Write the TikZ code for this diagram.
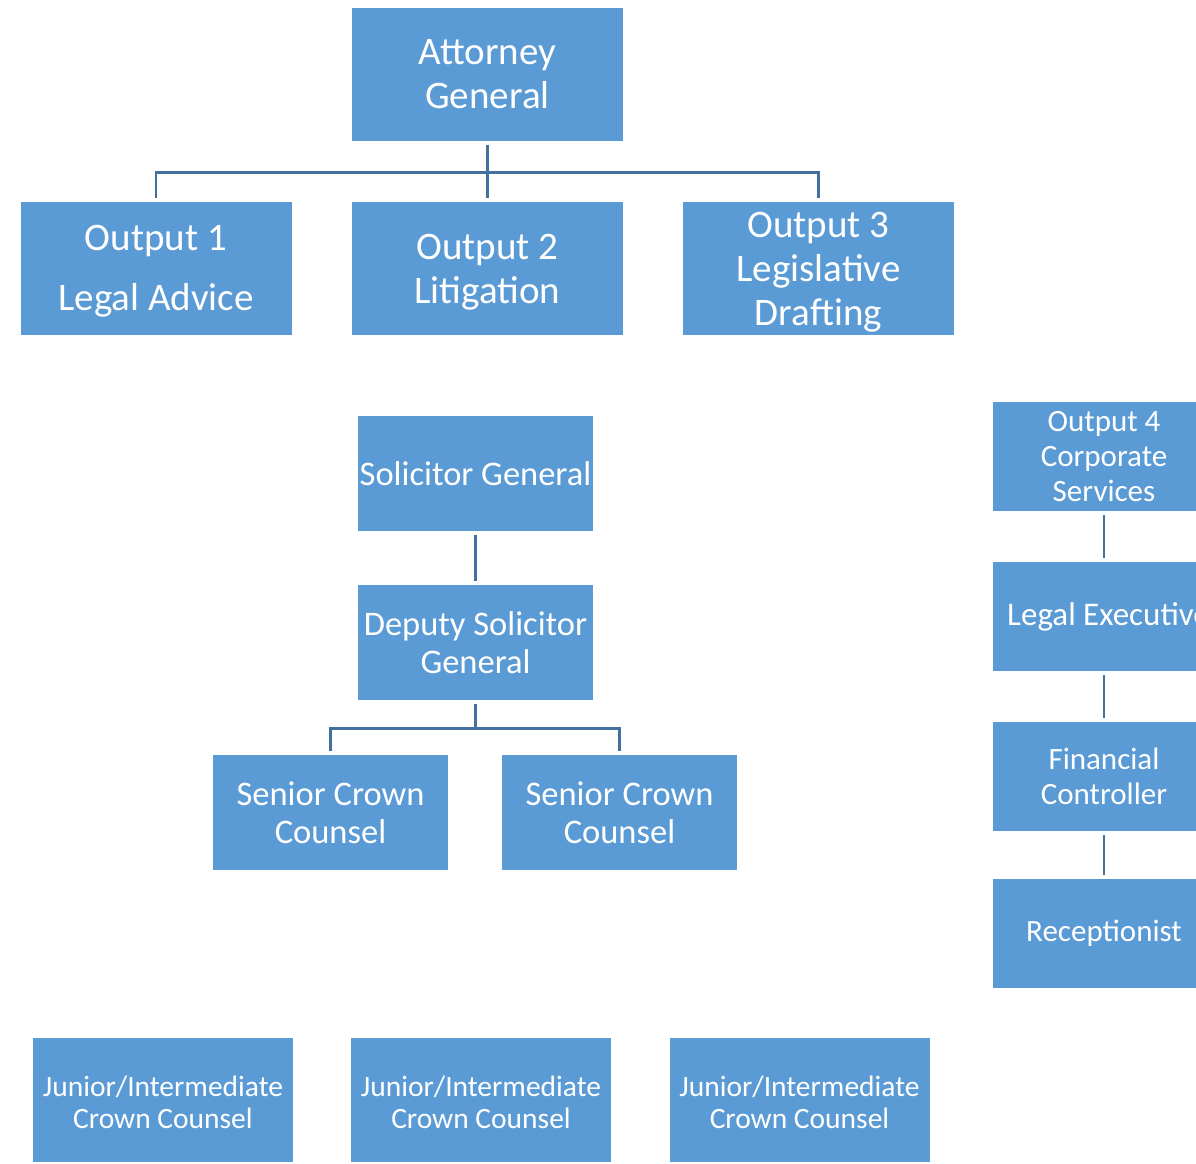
\documentclass[tikz,border=0pt]{standalone}
\usepackage{fontspec}
\setmainfont{Carlito}
\definecolor{boxblue}{HTML}{5B9BD5}
\definecolor{linkblue}{HTML}{41719C}
% lower a line of box text without changing the box it sits in
\newcommand{\lowerline}[2]{\raisebox{-#1}[\height][\depth]{#2}}
\begin{document}
\begin{tikzpicture}[x=1pt,y=-1pt,
  orgbox/.style={fill=boxblue, text=white, align=center, inner sep=0pt},
  bigbox/.style={orgbox, minimum width=271pt, minimum height=133pt, font=\fontsize{39}{44}\selectfont},
  midbox/.style={orgbox, minimum width=235pt, minimum height=115pt, font=\fontsize{34.5}{38}\selectfont},
  sidebox/.style={orgbox, minimum width=222pt, minimum height=109pt, font=\fontsize{31}{35}\selectfont},
  smallbox/.style={orgbox, minimum width=260pt, minimum height=124pt, font=\fontsize{29.5}{32}\selectfont},
  link/.style={draw=linkblue, line width=2.6pt, shorten <=4pt, shorten >=4pt}]
\clip (0,0) rectangle (1196,1163);

% top level
\node[bigbox] (ag)   at (487.5,74.5)  {Attorney\\General};
\node[bigbox] (out1) at (156,268.5)   {\lowerline{3pt}{Output 1}\\[16pt]\lowerline{3pt}{Legal Advice}};
\node[bigbox] (out2) at (487.5,268.5) {\lowerline{4pt}{Output 2}\\\lowerline{4pt}{Litigation}};
\node[bigbox] (out3) at (818.5,268.5) {\lowerline{4pt}{Output 3}\\\lowerline{4pt}{Legislative}\\\lowerline{4pt}{Drafting}};

\draw[link] (ag.south) -- ++(0,31) -| (out1.north);
\draw[link] (ag.south) -- ++(0,31) -| (out3.north);
\draw[link] (ag.south) -- (out2.north);

% litigation chain
\node[midbox] (solgen) at (475.5,473.5) {Solicitor General};
\node[midbox] (dsg)    at (475.5,642.5) {Deputy Solicitor\\General};
\node[midbox] (scc1)   at (330.5,812.5) {Senior Crown\\Counsel};
\node[midbox] (scc2)   at (619.5,812.5) {Senior Crown\\Counsel};

\draw[link] (solgen.south) -- (dsg.north);
\draw[link] (dsg.south) -- ++(0,28) -| (scc1.north);
\draw[link] (dsg.south) -- ++(0,28) -| (scc2.north);

% corporate services chain
\node[sidebox] (out4)    at (1104,456.5) {Output 4\\Corporate\\Services};
\node[sidebox] (legexec) at (1104,616.5) {};
\node[text=white, inner sep=0pt, anchor=west, font=\fontsize{33}{37}\selectfont]
      (legexectext) at (1007,616.5) {Legal Executive};
\node[sidebox] (fincon)  at (1104,776.5) {Financial\\Controller};
\node[sidebox] (recep)   at (1104,933.5) {Receptionist};

\draw[link] (out4.south) -- (legexec.north);
\draw[link] (legexec.south) -- (fincon.north);
\draw[link] (fincon.south) -- (recep.north);

% junior counsel
\node[smallbox] (jcc1) at (163,1100)   {\lowerline{2pt}{Junior/Intermediate}\\\lowerline{2pt}{Crown Counsel}};
\node[smallbox] (jcc2) at (481,1100)   {\lowerline{2pt}{Junior/Intermediate}\\\lowerline{2pt}{Crown Counsel}};
\node[smallbox] (jcc3) at (799.5,1100) {\lowerline{2pt}{Junior/Intermediate}\\\lowerline{2pt}{Crown Counsel}};
\end{tikzpicture}
\end{document}
